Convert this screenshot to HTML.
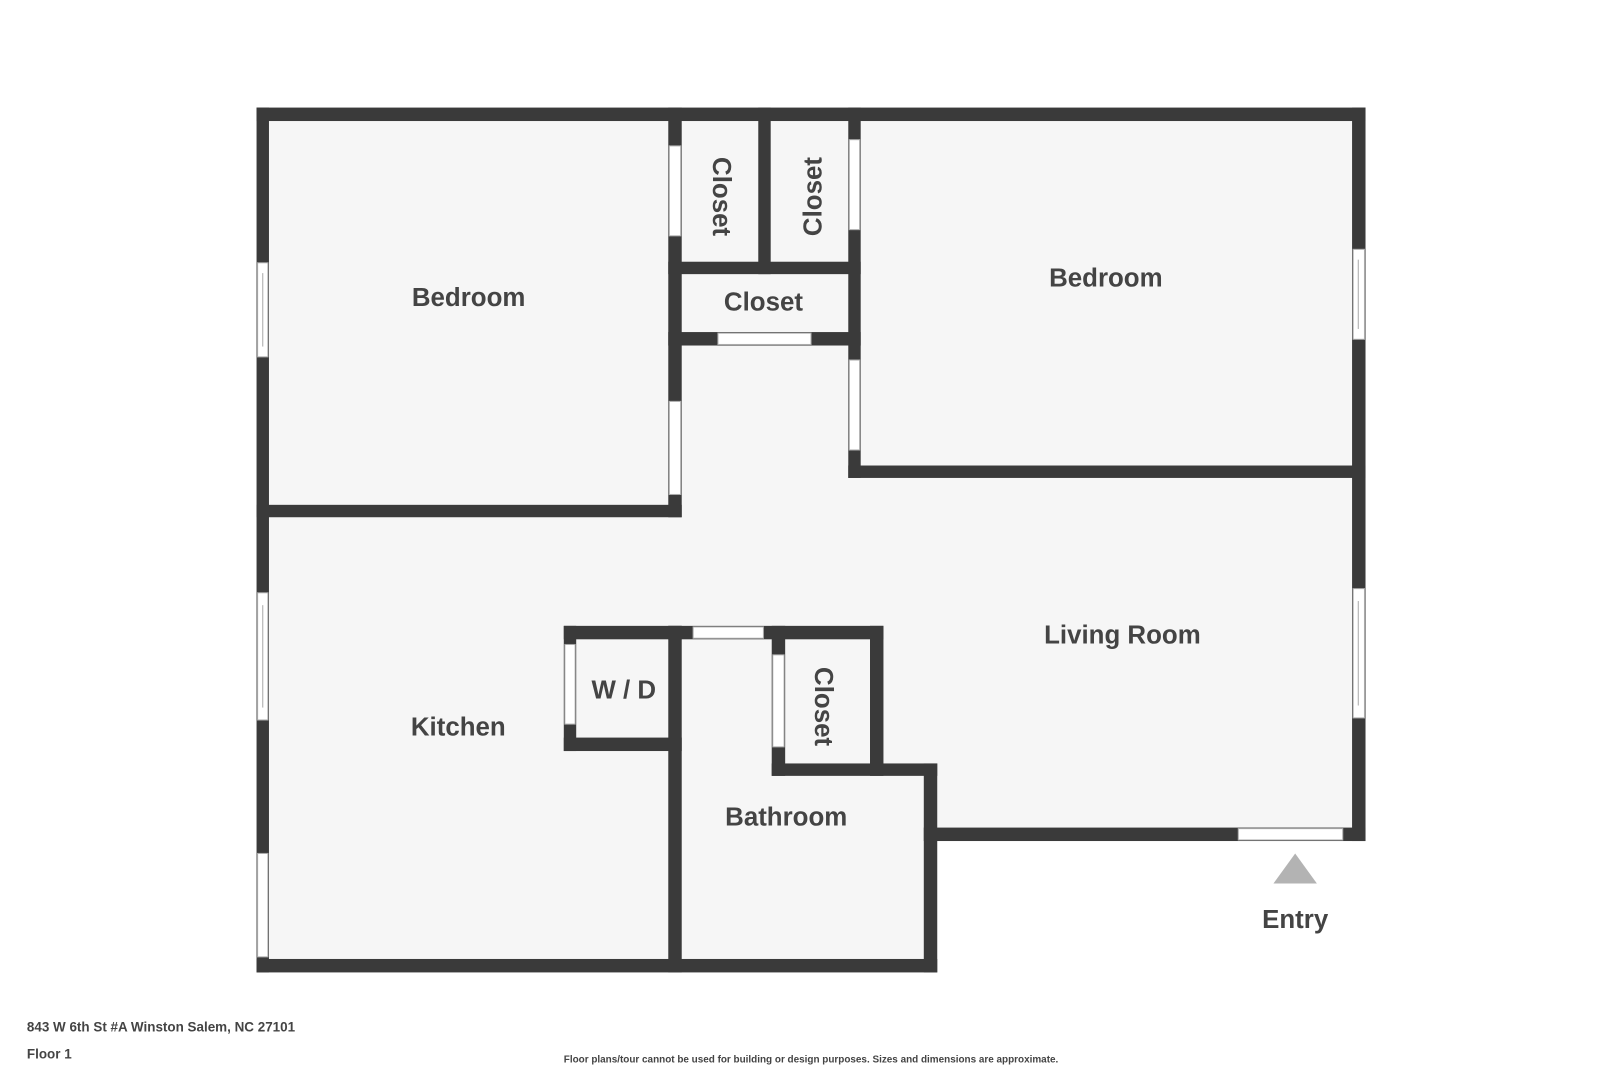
<!DOCTYPE html>
<html><head><meta charset="utf-8"><style>
html,body{margin:0;padding:0;background:#fff}
svg{display:block}
text{font-family:"Liberation Sans",sans-serif;font-weight:bold;fill:#444}
</style></head><body>
<svg width="1620" height="1080" viewBox="0 0 1566 1044" preserveAspectRatio="none" xmlns="http://www.w3.org/2000/svg">
<rect x="0" y="0" width="1566" height="1044" fill="#fff"/>
<rect x="248" y="104" width="1072" height="709" fill="#f6f6f6"/>
<rect x="248" y="104" width="658" height="836" fill="#f6f6f6"/>
<g fill="#3a3a3a">
<rect x="248" y="104" width="1072" height="13"/>
<rect x="248" y="104" width="12" height="836"/>
<rect x="248" y="927" width="658" height="13"/>
<rect x="893" y="738" width="13" height="202"/>
<rect x="893" y="800" width="427" height="13"/>
<rect x="1307" y="104" width="13" height="709"/>
<rect x="248" y="488" width="411" height="12"/>
<rect x="646" y="104" width="13" height="396"/>
<rect x="733" y="104" width="12" height="161"/>
<rect x="646" y="253" width="186" height="12"/>
<rect x="820" y="104" width="12" height="358"/>
<rect x="646" y="321" width="186" height="13"/>
<rect x="820" y="450" width="500" height="12"/>
<rect x="545" y="605" width="114" height="13"/>
<rect x="545" y="713" width="114" height="13"/>
<rect x="545" y="605" width="12" height="121"/>
<rect x="646" y="605" width="13" height="335"/>
<rect x="646" y="605" width="208" height="13"/>
<rect x="746" y="605" width="13" height="145"/>
<rect x="841" y="605" width="13" height="145"/>
<rect x="746" y="738" width="160" height="12"/>
</g>
<g fill="#fff" stroke="#aaa" stroke-width="1">
<rect x="647" y="141" width="11" height="87"/>
<rect x="647" y="388" width="11" height="90"/>
<rect x="821" y="135" width="10" height="87"/>
<rect x="821" y="348" width="10" height="87"/>
<rect x="694" y="322" width="90" height="11"/>
<rect x="249" y="254" width="10" height="91"/>
<rect x="1308" y="241" width="11" height="87"/>
<rect x="249" y="573" width="10" height="123"/>
<rect x="1308" y="569" width="11" height="125"/>
<rect x="249" y="825" width="10" height="100"/>
<rect x="1197" y="801" width="101" height="11"/>
<rect x="546" y="623" width="10" height="77"/>
<rect x="670" y="606" width="68" height="11"/>
<rect x="747" y="633" width="11" height="89"/>
</g>
<g stroke="#aaa" stroke-width="1">
<line x1="254" y1="264" x2="254" y2="335"/>
<line x1="1313" y1="251" x2="1313" y2="318"/>
<line x1="254" y1="585" x2="254" y2="684"/>
<line x1="1313" y1="581" x2="1313" y2="682"/>
</g>
<polygon points="1252,825 1273,854 1231,854" fill="#b3b3b3"/>
<g font-size="25" text-anchor="middle">
<text x="453" y="296">Bedroom</text>
<text x="1069" y="277">Bedroom</text>
<text x="738" y="300">Closet</text>
<text x="1085" y="622">Living Room</text>
<text x="603" y="675">W / D</text>
<text x="443" y="711">Kitchen</text>
<text x="760" y="798">Bathroom</text>
<text x="1252" y="897">Entry</text>
<text transform="translate(689,190) rotate(90)">Closet</text>
<text transform="translate(794,190) rotate(-90)">Closet</text>
<text transform="translate(788,683) rotate(90)">Closet</text>
</g>
<text x="26" y="997" font-size="13">843 W 6th St #A Winston Salem, NC 27101</text>
<text x="26" y="1023" font-size="13">Floor 1</text>
<text x="784" y="1027" font-size="9.6" text-anchor="middle">Floor plans/tour cannot be used for building or design purposes. Sizes and dimensions are approximate.</text>
</svg>
</body></html>
